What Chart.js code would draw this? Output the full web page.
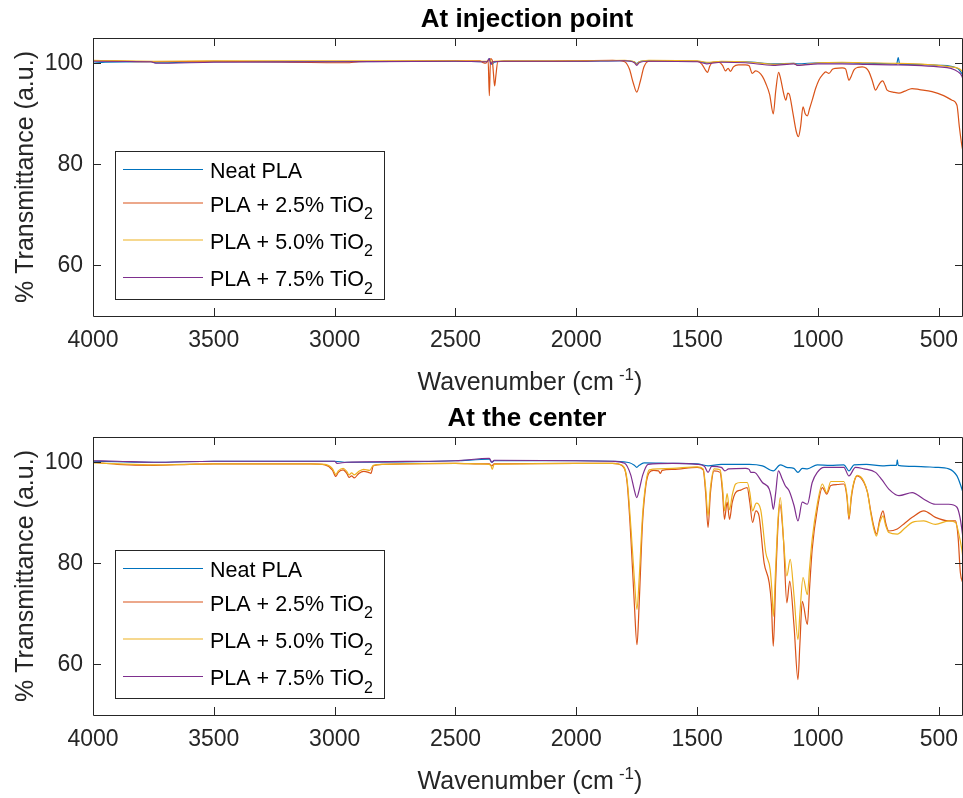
<!DOCTYPE html>
<html><head><meta charset="utf-8">
<script src="https://cdn.jsdelivr.net/npm/chart.js@4.4.1/dist/chart.umd.min.js"></script>
<style>
html,body{margin:0;padding:0;background:#fff;}
#wrap{position:relative;width:963px;height:798px;overflow:hidden;}
.pane{position:absolute;left:0;width:963px;height:399px;}
</style></head><body>
<div id="wrap">
<div class="pane" style="top:0"><canvas id="c1" width="963" height="399"></canvas></div>
<div class="pane" style="top:399px"><canvas id="c2" width="963" height="399"></canvas></div>
</div>
<script>
// ---------- data ----------
const panelTitles = ["At injection point", "At the center"];
const seriesNames = ["Neat PLA", "PLA + 2.5% TiO", "PLA + 5.0% TiO", "PLA + 7.5% TiO"];
const seriesSubscripts = ["", "2", "2", "2"];
const xAxisLabel = "Wavenumber (cm";
const xAxisLabelSup = "-1";
const xAxisLabelEnd = ")";
const yAxisLabel = "% Transmittance (a.u.)";
const wavenumberTicks = [4000, 3500, 3000, 2500, 2000, 1500, 1000, 500];
const transmittanceTicks = [60, 80, 100];

// At injection point
const injNeatWn = [4000,3950,3760,3740,3500,3000,2500,2370,2360,2350,2340,2300,2000,1800,1760,1750,1740,1700,1500,1460,1400,1300,1185,1100,1085,1000,900,800,700,675,668,662,600,500,450,420,405,400];
const injNeatT  = [100.0,100.2,100.3,100.1,100.3,100.3,100.4,100.3,100.9,99.8,100.2,100.4,100.4,100.5,100.3,99.9,100.3,100.5,100.4,100.1,100.3,100.3,99.9,100.0,99.9,100.1,100.1,100.0,99.9,99.8,101.1,99.8,99.8,99.6,99.4,98.9,98.0,97.6];

const inj25Wn = [4000,3750,3500,2950,2900,2500,2400,2385,2375,2365,2360,2355,2348,2343,2338,2333,2325,2300,2100,2000,1850,1800,1780,1765,1750,1735,1720,1700,1600,1500,1480,1465,1457,1448,1435,1410,1395,1383,1372,1362,1350,1330,1300,1285,1272,1258,1244,1230,1216,1200,1185,1175,1163,1155,1142,1133,1125,1118,1105,1090,1081,1072,1062,1053,1044,1035,1024,1010,996,980,968,955,940,927,900,886,878,872,862,851,835,817,800,789,775,762,750,740,732,722,714,690,665,640,611,580,528,480,445,425,415,405,400];
const inj25T  = [100.5,100.3,100.4,100.1,100.3,100.5,100.5,100.1,100.0,100.6,93.6,100.9,100.6,98.0,95.5,97.5,100.3,100.4,100.4,100.5,100.6,100.3,98.8,96.2,94.3,96.5,99.3,100.4,100.5,100.4,99.8,98.6,98.2,99.4,100.2,100.2,99.6,98.5,99.0,98.4,99.3,99.7,99.7,99.5,98.0,98.5,98.2,97.4,96.0,93.8,90.0,94.5,98.2,97.0,94.0,92.7,94.1,93.8,90.5,86.5,85.5,87.5,91.4,90.0,89.6,91.0,92.7,95.0,96.7,97.8,98.3,98.0,98.8,99.0,99.1,98.9,97.5,96.6,97.5,98.7,99.2,99.3,99.0,98.3,96.5,94.7,95.6,96.3,96.5,95.6,94.7,94.3,94.1,94.5,95.0,94.8,94.4,93.6,92.7,91.7,87.4,83.8,82.5];

const inj50Wn = [4000,3750,3500,3000,2500,2370,2358,2350,2340,2300,2000,1800,1760,1750,1740,1700,1500,1460,1400,1300,1185,1100,1085,1000,900,800,700,600,500,450,420,405,400];
const inj50T  = [100.6,100.4,100.5,100.5,100.5,100.4,100.8,100.1,100.4,100.5,100.5,100.6,100.3,99.8,100.3,100.6,100.5,100.2,100.4,100.3,99.8,100.0,99.6,100.1,100.2,100.1,100.0,99.9,99.6,99.3,99.0,98.5,98.0];

const inj75Wn = [4000,3760,3740,3500,3000,2500,2370,2360,2355,2345,2300,2000,1800,1760,1750,1740,1700,1500,1460,1400,1300,1185,1100,1085,1000,900,800,700,600,500,450,420,405,400];
const inj75T  = [100.4,100.3,100.0,100.2,100.3,100.4,100.3,100.9,99.9,100.3,100.4,100.4,100.5,100.1,99.6,100.1,100.4,100.3,99.9,100.2,100.1,99.6,99.9,99.6,99.9,99.9,99.8,99.7,99.6,99.3,99.0,98.3,97.5,96.8];

// At the center
const cenNeatWn = [4000,3900,3750,3500,3000,2950,2500,2360,2350,2340,2000,1850,1780,1760,1750,1740,1720,1600,1500,1455,1400,1300,1285,1230,1185,1156,1130,1100,1083,1065,1044,1003,950,893,872,851,800,733,700,675,672,668,600,514,459,425,410,400];
const cenNeatT  = [100.2,100.1,100.0,100.2,100.2,100.0,100.3,100.6,100.0,100.3,100.3,100.2,99.9,99.4,99.0,99.4,99.9,99.8,99.7,99.3,99.6,99.6,99.6,99.3,98.3,99.5,99.0,98.8,98.0,98.8,98.7,99.5,99.4,99.5,98.3,99.5,99.6,99.3,99.4,99.4,100.5,99.4,99.2,99.0,98.7,97.3,95.5,94.0];

const cen25Wn = [4000,3900,3750,3600,3500,3100,3040,3010,2995,2985,2965,2950,2940,2930,2919,2900,2880,2860,2850,2840,2800,2500,2400,2360,2350,2340,2000,1850,1810,1790,1774,1760,1749,1740,1726,1712,1698,1680,1660,1652,1645,1600,1500,1475,1465,1455,1445,1430,1405,1395,1387,1376,1366,1355,1341,1320,1293,1282,1271,1257,1244,1223,1202,1193,1185,1175,1165,1158,1143,1129,1117,1099,1083,1075,1065,1044,1035,1024,1003,982,964,947,920,893,880,872,862,851,838,810,795,782,770,758,745,731,720,707,672,640,610,562,514,459,431,420,411,400];
const cen25T  = [100.0,99.6,99.4,99.6,99.7,99.7,99.5,98.5,97.2,98.0,98.5,97.8,97.0,97.3,96.9,97.8,98.2,98.0,97.8,99.3,99.6,99.8,99.7,99.7,99.3,99.7,99.8,99.8,99.3,96.0,84.8,72.0,63.9,72.0,88.1,95.5,98.0,98.4,98.3,97.8,98.4,98.6,99.0,98.5,94.0,87.1,94.0,98.3,98.0,94.0,88.7,92.1,88.7,92.0,94.0,94.5,95.0,92.0,88.1,90.4,89.4,80.1,76.2,72.0,63.6,76.8,88.0,91.7,84.8,72.2,76.5,67.5,57.0,64.0,72.5,67.9,75.0,82.8,90.7,95.0,93.7,95.4,95.6,95.7,93.0,88.7,93.0,96.0,97.3,96.0,94.0,90.4,87.5,85.8,88.5,90.4,88.0,86.4,86.8,88.0,89.1,90.4,89.1,88.4,88.4,85.0,78.2,76.0];

const cen50Wn = [4000,3900,3750,3500,3100,3040,3010,2995,2985,2965,2950,2940,2930,2919,2900,2880,2855,2840,2800,2500,2400,2355,2348,2340,2000,1850,1810,1790,1774,1760,1749,1740,1726,1712,1698,1660,1600,1500,1475,1465,1455,1445,1430,1405,1395,1387,1376,1366,1355,1341,1320,1293,1282,1271,1255,1237,1216,1198,1190,1185,1175,1165,1156,1141,1129,1115,1099,1083,1075,1062,1044,1035,1024,1003,982,964,947,920,893,880,872,862,851,838,810,795,782,770,758,745,731,720,707,672,640,610,562,514,459,431,418,405,400];
const cen50T  = [99.9,99.7,99.5,99.7,99.7,99.6,98.8,97.6,98.3,98.8,98.2,97.5,97.9,97.5,98.2,98.6,98.4,99.4,99.6,99.8,99.7,99.5,98.6,99.6,99.8,99.8,99.4,96.5,87.0,77.0,70.9,77.0,89.5,96.0,98.5,98.7,98.8,99.1,98.7,95.0,89.4,95.0,98.7,98.5,95.0,90.4,93.8,90.6,93.5,95.7,96.0,96.0,94.0,90.4,91.9,90.6,82.1,78.8,74.0,69.5,79.4,89.0,93.0,83.5,77.5,80.8,73.5,64.9,70.0,77.2,73.8,79.0,84.8,91.7,95.7,94.0,96.2,96.2,96.2,93.5,89.1,93.5,96.2,97.4,96.2,94.0,90.0,87.0,85.4,88.0,89.4,87.5,86.1,85.8,87.0,88.1,88.4,87.7,88.4,88.1,86.0,82.8,81.0];

const cen75Wn = [4000,3900,3750,3500,3000,2990,2950,2500,2360,2350,2340,2000,1850,1800,1775,1760,1750,1740,1725,1703,1600,1500,1470,1455,1440,1400,1385,1370,1300,1285,1278,1264,1230,1202,1193,1185,1175,1164,1148,1136,1120,1099,1083,1065,1044,1024,1003,975,927,893,872,845,810,762,735,707,665,610,562,514,459,425,412,405,400];
const cen75T  = [100.3,100.2,100.0,100.2,100.2,99.8,100.0,100.3,100.8,100.0,100.4,100.3,100.2,99.8,97.5,94.5,93.0,94.5,97.5,99.6,99.8,99.6,99.2,98.0,99.2,99.0,98.3,98.7,98.8,98.6,98.0,98.0,96.0,94.7,93.0,90.7,94.0,98.3,96.7,95.4,94.4,91.4,88.4,92.1,91.7,96.0,98.0,99.0,99.0,99.0,97.3,99.0,98.7,98.0,96.5,94.7,93.4,94.0,92.7,91.7,91.7,91.1,89.0,86.8,85.0];

// ---------- style ----------
const FONT = '"Liberation Sans", Arial, Helvetica, sans-serif';
const seriesColors = ['#0072BD', '#D95319', '#EDB120', '#7E2F8E'];
const AXIS_COLOR = '#262626';

function toPoints(wn, t) { return wn.map((x, i) => ({ x: x, y: t[i] })); }

const framePlugin = {
  id: 'frame',
  afterDraw(chart, args, opts) {
    const ctx = chart.ctx;
    const a = chart.chartArea;
    const xs = chart.scales.x, ys = chart.scales.y;
    ctx.save();
    ctx.strokeStyle = AXIS_COLOR;
    ctx.lineWidth = 1;
    ctx.beginPath();
    ctx.rect(Math.round(a.left) + 0.5, Math.round(a.top) + 0.5, Math.round(a.right - a.left) - 1, Math.round(a.bottom - a.top));
    ctx.stroke();
    const TL = 8;
    ctx.beginPath();
    xs.ticks.forEach(t => {
      const px = Math.round(xs.getPixelForValue(t.value)) + 0.5;
      ctx.moveTo(px, a.bottom); ctx.lineTo(px, a.bottom - TL);
      ctx.moveTo(px, a.top); ctx.lineTo(px, a.top + TL);
    });
    ys.ticks.forEach(t => {
      const py = Math.round(ys.getPixelForValue(t.value)) + 0.5;
      ctx.moveTo(a.left, py); ctx.lineTo(a.left + TL, py);
      ctx.moveTo(a.right, py); ctx.lineTo(a.right - TL, py);
    });
    ctx.stroke();

    const cx = (a.left + a.right) / 2;
    // title
    ctx.fillStyle = '#000';
    ctx.font = 'bold 26px ' + FONT;
    ctx.textAlign = 'center';
    ctx.textBaseline = 'alphabetic';
    ctx.fillText(opts.title, cx - 1, 27);

    // x axis label with superscript
    ctx.fillStyle = AXIS_COLOR;
    const mainF = '25px ' + FONT, supF = '17px ' + FONT;
    ctx.font = mainF; const w1 = ctx.measureText(xAxisLabel).width;
    const w3 = ctx.measureText(xAxisLabelEnd).width;
    ctx.font = supF; const w2 = ctx.measureText(xAxisLabelSup).width;
    const gap = 5;
    const total = w1 + gap + w2 + w3;
    let x0 = cx + 2 - total / 2;
    const base = a.bottom + 74;
    ctx.textAlign = 'left';
    ctx.font = mainF; ctx.fillText(xAxisLabel, x0, base);
    ctx.font = supF; ctx.fillText(xAxisLabelSup, x0 + w1 + gap, base - 10);
    ctx.font = mainF; ctx.fillText(xAxisLabelEnd, x0 + w1 + gap + w2, base);

    // y axis label
    ctx.save();
    ctx.translate(26, (a.top + a.bottom) / 2);
    ctx.rotate(-Math.PI / 2);
    ctx.textAlign = 'center';
    ctx.textBaseline = 'middle';
    ctx.font = '25px ' + FONT;
    ctx.fillText(yAxisLabel, 0, 0);
    ctx.restore();

    // legend
    const L = { left: 115.5, top: 151.5, right: 384.5, bottom: 299.5 };
    const rowY = [169.5, 203, 240, 277.5];
    ctx.fillStyle = '#fff';
    ctx.fillRect(L.left, L.top, L.right - L.left, L.bottom - L.top);
    ctx.strokeStyle = AXIS_COLOR;
    ctx.lineWidth = 1;
    ctx.strokeRect(L.left, L.top, L.right - L.left, L.bottom - L.top);
    seriesNames.forEach((name, i) => {
      const y = rowY[i];
      ctx.strokeStyle = seriesColors[i];
      ctx.lineWidth = 1.2;
      ctx.beginPath(); ctx.moveTo(123, y); ctx.lineTo(203, y); ctx.stroke();
      ctx.fillStyle = '#000';
      ctx.textAlign = 'left';
      ctx.textBaseline = 'alphabetic';
      ctx.font = '21.5px ' + FONT;
      ctx.fillText(name, 210, y + 8.5);
      if (seriesSubscripts[i]) {
        const w = ctx.measureText(name).width;
        ctx.font = '16px ' + FONT;
        ctx.fillText(seriesSubscripts[i], 210 + w, y + 16);
      }
    });
    ctx.restore();
  }
};

function makeChart(id, title, wns, ts) {
  return new Chart(document.getElementById(id), {
    type: 'line',
    data: {
      datasets: seriesNames.map((n, i) => ({
        label: n + seriesSubscripts[i],
        data: toPoints(wns[i], ts[i]),
        borderColor: seriesColors[i],
        backgroundColor: seriesColors[i],
        borderWidth: 1.2,
        pointRadius: 0,
        cubicInterpolationMode: 'monotone',
        fill: false,
        order: 4 - i
      }))
    },
    options: {
      responsive: false,
      animation: false,
      events: [],
      parsing: false,
      layout: { padding: { top: 38, left: 0, right: -2, bottom: 0 } },
      plugins: { legend: { display: false }, title: { display: false }, tooltip: { enabled: false }, frame: { title: title } },
      scales: {
        x: {
          type: 'linear', reverse: true, min: 400, max: 4000,
          afterBuildTicks: s => { s.ticks = wavenumberTicks.map(v => ({ value: v })); },
          afterFit: s => { s.height = 83; s.paddingLeft = 0; s.paddingRight = 0; },
          grid: { display: false, drawTicks: false },
          border: { display: false },
          ticks: { padding: 11, color: AXIS_COLOR, font: { family: FONT, size: 23 }, maxRotation: 0, autoSkip: false, callback: v => String(v) }
        },
        y: {
          type: 'linear', min: 50, max: 105,
          afterBuildTicks: s => { s.ticks = transmittanceTicks.map(v => ({ value: v })); },
          afterFit: s => { s.width = 93; s.paddingTop = 0; s.paddingBottom = 0; },
          grid: { display: false, drawTicks: false },
          border: { display: false },
          ticks: { padding: 10, color: AXIS_COLOR, font: { family: FONT, size: 23 }, callback: v => String(v) }
        }
      }
    },
    plugins: [framePlugin]
  });
}

makeChart('c1', panelTitles[0], [injNeatWn, inj25Wn, inj50Wn, inj75Wn], [injNeatT, inj25T, inj50T, inj75T]);
makeChart('c2', panelTitles[1], [cenNeatWn, cen25Wn, cen50Wn, cen75Wn], [cenNeatT, cen25T, cen50T, cen75T]);
</script>
</body></html>
